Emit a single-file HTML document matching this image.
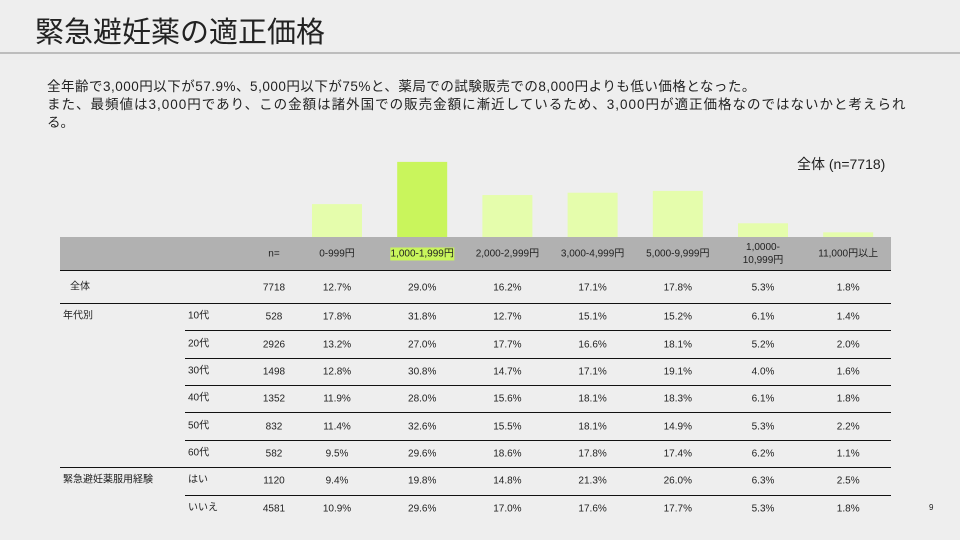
<!DOCTYPE html>
<html><head><meta charset="utf-8">
<style>
body{margin:0;}
#page{position:relative;width:960px;height:540px;background:#eeeeee;overflow:hidden;font-family:"Liberation Sans","Noto Sans CJK JP",sans-serif;color:#222;}
.abs{position:absolute;white-space:nowrap;}
.t{position:absolute;font-size:10px;transform:translate(-50%,-50%);white-space:nowrap;text-align:center;line-height:13px;}
.l{position:absolute;font-size:10px;transform:translateY(-50%);white-space:nowrap;line-height:13px;}
.hl{position:absolute;height:1.2px;background:#111;}
</style></head><body>
<div id="page">
<div class="abs" style="left:35px;top:9px;font-size:29px;color:#222;">緊急避妊薬の適正価格</div>
<div class="abs" style="left:0;top:52px;width:960px;height:2px;background:#bdbdbd;"></div>
<div class="abs" style="left:47px;top:75px;font-size:13.5px;letter-spacing:0.5px;">全年齢で3,000円以下が57.9%、5,000円以下が75%と、薬局での試験販売での8,000円よりも低い価格となった。</div>
<div class="abs" style="left:47px;top:93px;font-size:13.5px;letter-spacing:1px;">また、最頻値は3,000円であり、この金額は諸外国での販売金額に漸近しているため、3,000円が適正価格なのではないかと考えられ</div>
<div class="abs" style="left:47px;top:111px;font-size:13.5px;">る。</div>
<div class="abs" style="left:797px;top:154px;font-size:14px;">全体 (n=7718)</div>
<svg id="chart" class="abs" style="left:0;top:0" width="960" height="540"></svg>
<div class="abs" style="left:60px;top:237px;width:831px;height:34px;background:#b1b1b1;"></div>
<div id="tbl"></div>
<div class="abs" style="left:929px;top:503px;font-size:8px;">9</div>
</div>
<script>
const categories=["0-999円","1,000-1,999円","2,000-2,999円","3,000-4,999円","5,000-9,999円","1,0000-<br>10,999円","11,000円以上"];
const overallValues=[12.7,29.0,16.2,17.1,17.8,5.3,1.8];
const highlightIndex=1;
const rowGroups=["全体","年代別","","","","","","緊急避妊薬服用経験",""];
const rowLabels=["","10代","20代","30代","40代","50代","60代","はい","いいえ"];
const rowN=[7718,528,2926,1498,1352,832,582,1120,4581];
const rowValues=[
[12.7,29.0,16.2,17.1,17.8,5.3,1.8],
[17.8,31.8,12.7,15.1,15.2,6.1,1.4],
[13.2,27.0,17.7,16.6,18.1,5.2,2.0],
[12.8,30.8,14.7,17.1,19.1,4.0,1.6],
[11.9,28.0,15.6,18.1,18.3,6.1,1.8],
[11.4,32.6,15.5,18.1,14.9,5.3,2.2],
[9.5,29.6,18.6,17.8,17.4,6.2,1.1],
[9.4,19.8,14.8,21.3,26.0,6.3,2.5],
[10.9,29.6,17.0,17.6,17.7,5.3,1.8]];
const colX=i=>337+i*85.2;
const y=v=>237-v*2.59;
const svg=document.getElementById('chart');
overallValues.forEach((v,i)=>{
 const r=document.createElementNS('http://www.w3.org/2000/svg','rect');
 
 
 r.setAttribute('x',colX(i)-25);r.setAttribute('width',50);
 r.setAttribute('y',y(v));r.setAttribute('height',237-y(v));
 r.setAttribute('fill',i===highlightIndex?'#c9f55c':'#e5fdac');
 svg.appendChild(r);
});
const tbl=document.getElementById('tbl');
function add(html,cls,style,name){
 const d=document.createElement('div');d.className=cls;d.style.cssText=style;d.innerHTML=html;
 
 
 tbl.appendChild(d);return d;
}
add('n=','t','left:274px;top:254px;','header-n');
categories.forEach((c,i)=>{
 const h=add(c,'t','left:'+colX(i)+'px;top:254px;','header-'+i);
 if(i===highlightIndex)h.style.background='#c9f55c';
});
const rowY=[288,317,345,372,399,427,454,481,509];
const lineY=[303,330,358,385,412,440,467,495];
rowY.forEach((ry,r)=>{
 if(rowGroups[r])add(rowGroups[r],'l','left:'+(r===0?70:63)+'px;top:'+(ry-1)+'px;','group-label-'+r);
 if(rowLabels[r])add(rowLabels[r],'l','left:188px;top:'+(ry-1)+'px;','row-label-'+r);
 add(String(rowN[r]),'t','left:274px;top:'+ry+'px;','n-'+r);
 rowValues[r].forEach((v,i)=>add(v.toFixed(1)+'%','t','left:'+colX(i)+'px;top:'+ry+'px;','cell-'+r+'-'+i));
});
lineY.forEach((ly,k)=>{
 const full=(k===0||k===6);
 add('','hl','left:'+(full?60:185)+'px;top:'+ly+'px;width:'+(full?831:706)+'px;','row-line-'+k);
});
add('','hl','left:60px;top:270px;width:831px;','header-line');
</script>
</body></html>
